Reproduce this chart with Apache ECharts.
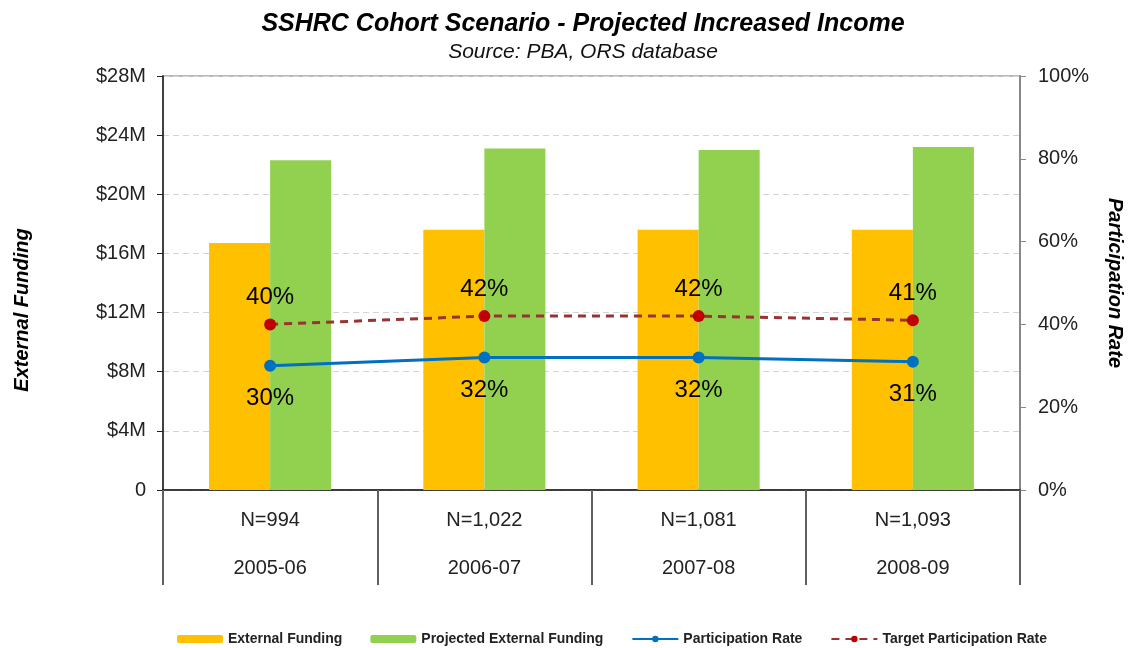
<!DOCTYPE html>
<html>
<head>
<meta charset="utf-8">
<script src="https://cdn.jsdelivr.net/npm/echarts@6/dist/echarts.min.js"></script>
<style>
html, body { margin: 0; padding: 0; background: #fff; }
#chart { width: 1131px; height: 648px; }
</style>
</head>
<body>
<div id="chart"></div>
<script>
const years = ['2005-06', '2006-07', '2007-08', '2008-09'];
const cohortN = ['994', '1,022', '1,081', '1,093'];
const externalFunding = [16.7, 17.6, 17.6, 17.6];      // $M
const projectedFunding = [22.3, 23.1, 23.0, 23.2];     // $M
const participationRate = [30, 32, 32, 31];            // %
const targetRate = [40, 42, 42, 41];                   // %

const font = '"Liberation Sans", Arial, sans-serif';
const categories = years.map((y, i) => 'N=' + cohortN[i] + '\n' + y);

const chart = echarts.init(document.getElementById('chart'));
const option = {
    backgroundColor: '#fff',
    animation: false,
    textStyle: { fontFamily: font },
    title: {
        text: 'SSHRC Cohort Scenario - Projected Increased Income',
        subtext: 'Source: PBA, ORS database',
        left: 583,
        top: 12,
        padding: 0,
        itemGap: 5,
        textAlign: 'center',
        textStyle: { fontFamily: font, fontSize: 25, fontWeight: 'bold', fontStyle: 'italic', color: '#000' },
        subtextStyle: { fontFamily: font, fontSize: 21, fontStyle: 'italic', color: '#111' }
    },
    graphic: [
        {
            type: 'text', x: 22, y: 310, rotation: Math.PI / 2,
            style: { text: 'External Funding', font: 'italic bold 20px ' + font, fill: '#000', align: 'center', verticalAlign: 'middle' }
        },
        {
            type: 'text', x: 1115, y: 283, rotation: -Math.PI / 2,
            style: { text: 'Participation Rate', font: 'italic bold 20px ' + font, fill: '#000', align: 'center', verticalAlign: 'middle' }
        }
    ],
    legend: {
        left: 177,
        top: 632,
        padding: 0,
        itemWidth: 46,
        itemHeight: 8,
        itemGap: 28,
        textStyle: { fontFamily: font, fontSize: 14, fontWeight: 'bold', color: '#222' },
        data: ['External Funding', 'Projected External Funding', 'Participation Rate', 'Target Participation Rate']
    },
    grid: {
        left: 163, right: 111, top: 76, bottom: 158,
        show: true, borderColor: '#777', borderWidth: 1
    },
    xAxis: {
        type: 'category',
        data: categories,
        axisLine: { lineStyle: { color: '#111', width: 1.5 } },
        axisTick: { show: true, length: 95, interval: 0, lineStyle: { color: '#606060', width: 2 } },
        axisLabel: {
            interval: 0,
            margin: 6,
            lineHeight: 48,
            fontSize: 20,
            color: '#222',
            fontFamily: font
        }
    },
    yAxis: [
        {
            type: 'value',
            min: 0, max: 28, interval: 4,
            axisLine: { show: true, lineStyle: { color: '#404040', width: 2 } },
            axisTick: { show: true, length: 6, lineStyle: { color: '#222' } },
            axisLabel: {
                fontSize: 20, color: '#222', margin: 17, fontFamily: font,
                formatter: v => v === 0 ? '0' : '$' + v + 'M'
            },
            splitLine: { show: true, lineStyle: { color: '#d4d4d4', type: [6, 4] } }
        },
        {
            type: 'value',
            min: 0, max: 100, interval: 20,
            axisLine: { show: true, lineStyle: { color: '#888', width: 2 } },
            axisTick: { show: true, length: 6, lineStyle: { color: '#888' } },
            axisLabel: { fontSize: 20, color: '#222', margin: 18, fontFamily: font, formatter: '{value}%' },
            splitLine: { show: false }
        }
    ],
    series: [
        {
            name: 'External Funding',
            type: 'bar',
            data: externalFunding,
            barGap: '0%',
            barCategoryGap: '43%',
            itemStyle: { color: '#FFC000' }
        },
        {
            name: 'Projected External Funding',
            type: 'bar',
            data: projectedFunding,
            itemStyle: { color: '#92D050' }
        },
        {
            name: 'Participation Rate',
            type: 'line',
            yAxisIndex: 1,
            data: participationRate,
            symbol: 'circle',
            symbolSize: 12,
            z: 5,
            lineStyle: { color: '#0070C0', width: 3 },
            itemStyle: { color: '#0070C0' },
            label: {
                show: true, position: 'bottom', distance: 15,
                formatter: '{c}%', fontSize: 24, color: '#000', fontFamily: font
            }
        },
        {
            name: 'Target Participation Rate',
            type: 'line',
            yAxisIndex: 1,
            data: targetRate,
            symbol: 'circle',
            symbolSize: 12,
            z: 5,
            lineStyle: { color: '#993333', width: 3, type: [8, 6] },
            itemStyle: { color: '#C00000' },
            label: {
                show: true, position: 'top', distance: 9,
                formatter: '{c}%', fontSize: 24, color: '#000', fontFamily: font
            }
        }
    ]
};
chart.setOption(option);
window.addEventListener('resize', function () {
    chart.resize();
});
</script>
</body>
</html>
